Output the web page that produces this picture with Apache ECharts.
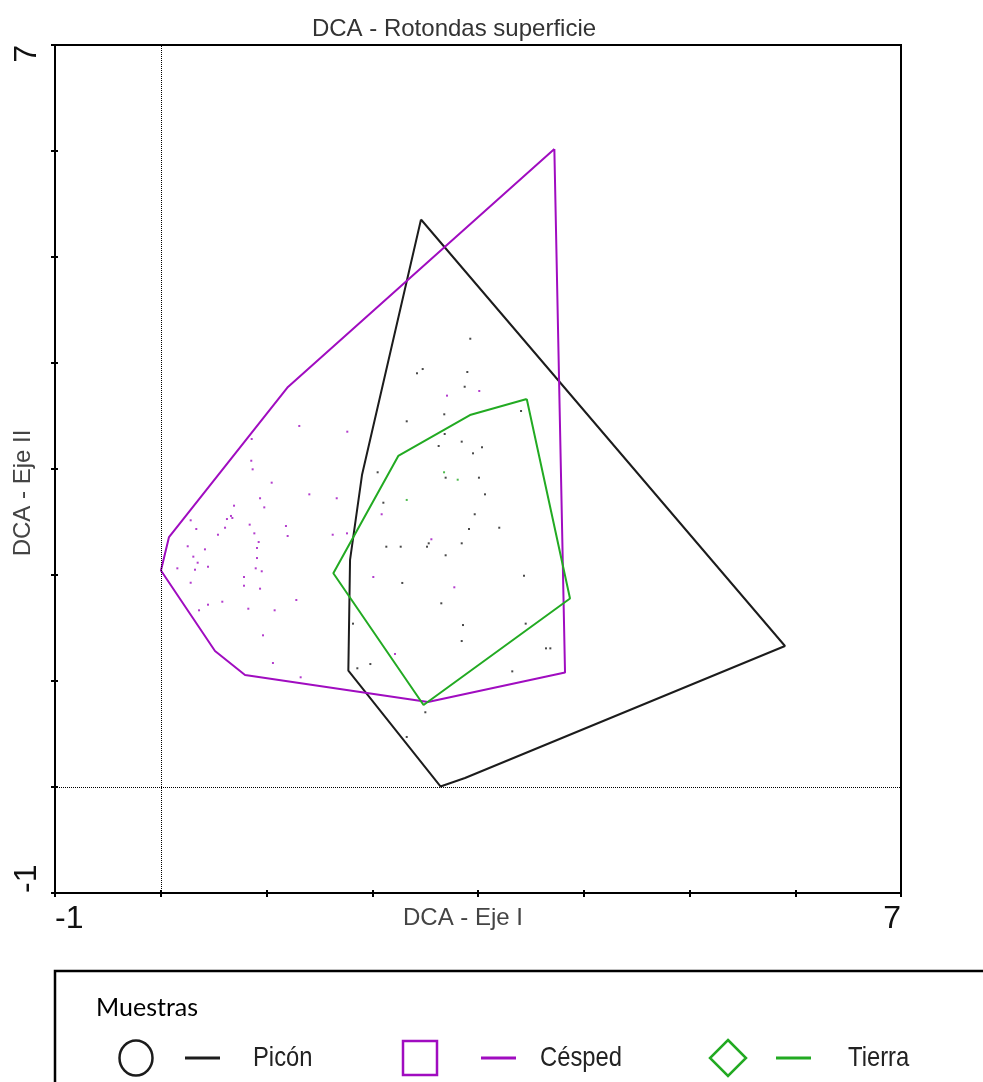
<!DOCTYPE html>
<html>
<head>
<meta charset="utf-8">
<script src="https://cdn.jsdelivr.net/npm/echarts@6/dist/echarts.min.js"></script>
<style>html,body{margin:0;padding:0;background:#fff;}#c{width:983px;height:1082px;}</style>
</head>
<body>
<div id="c"></div>
<script>
// ---- data ----
const titleText = 'DCA - Rotondas superficie';
const xAxisName = 'DCA - Eje I';
const yAxisName = 'DCA - Eje II';
const axisMin = -1;
const axisMax = 7;
const tickLabels = [-1, 7];
const legendTitle = 'Muestras';
const seriesNames = ['Picón', 'Césped', 'Tierra'];

// convex hull vertices (DCA axis I, axis II)
const piconHull = [[2.461,5.354],[1.903,2.943],[1.790,2.142],[1.774,1.099],[2.645,0.005],[2.877,0.085],[5.903,1.330]];
const cespedHull = [[3.722,6.019],[3.823,1.080],[2.527,0.802],[0.797,1.057],[0.513,1.283],[0.002,2.042],[0.078,2.358],[1.203,3.774]];
const tierraHull = [[3.461,3.660],[3.870,1.778],[2.485,0.774],[1.632,2.016],[2.246,3.123],[2.924,3.509]];

// sample scores
const piconPoints = [[2.927,4.229],[2.477,3.943],[2.423,3.903],[2.899,3.915],[2.874,3.776],[3.407,3.547],[2.681,3.516],[2.326,3.450],[2.685,3.330],[2.846,3.258],[2.628,3.217],[3.038,3.205],[2.953,3.148],[2.051,2.969],[3.009,2.918],[2.694,2.918],[3.066,2.761],[2.105,2.682],[2.969,2.573],[2.915,2.434],[3.201,2.446],[2.133,2.267],[2.269,2.267],[2.518,2.267],[2.534,2.299],[2.846,2.299],[2.694,2.186],[3.435,1.993],[2.284,1.925],[2.653,1.733],[1.818,1.541],[2.858,1.528],[3.451,1.541],[2.846,1.377],[3.643,1.308],[3.684,1.308],[1.859,1.120],[1.982,1.160],[3.324,1.091],[2.502,0.705],[2.326,0.472]];
const cespedPoints = [[1.310,3.406],[1.764,3.352],[0.860,3.283],[0.856,3.078],[0.869,2.997],[1.049,2.871],[0.939,2.724],[1.405,2.761],[1.664,2.724],[0.693,2.654],[0.979,2.638],[0.283,2.516],[0.664,2.557],[0.626,2.528],[0.677,2.538],[0.608,2.446],[0.336,2.434],[0.841,2.475],[1.184,2.462],[0.885,2.393],[0.541,2.380],[1.200,2.368],[1.626,2.380],[1.761,2.393],[0.926,2.311],[0.255,2.271],[0.418,2.242],[0.910,2.255],[0.308,2.173],[0.349,2.116],[0.910,2.160],[0.157,2.063],[0.324,2.050],[0.447,2.078],[0.898,2.063],[0.955,2.035],[0.787,1.981],[0.283,1.927],[0.787,1.899],[0.939,1.871],[1.282,1.764],[0.582,1.748],[0.447,1.720],[0.362,1.667],[0.828,1.682],[1.077,1.667],[0.967,1.431],[1.061,1.170],[1.323,1.035],[2.089,2.573],[2.559,2.337],[2.010,1.981],[2.776,1.884],[2.215,1.255],[2.707,3.692],[3.012,3.736]];
const tierraPoints = [[2.679,2.969],[2.808,2.899],[2.326,2.708]];

const colors = ['#1c1c1c', '#a00cc0', '#22aa22'];

// ---- chart ----
const chart = echarts.init(document.getElementById('c'), null, {renderer: 'canvas'});
const hulls = [piconHull, cespedHull, tierraHull];
const points = [piconPoints, cespedPoints, tierraPoints];

const series = [];
hulls.forEach((h, i) => {
  series.push({
    name: seriesNames[i], type: 'line', data: h.concat([h[0]]),
    showSymbol: false, symbol: 'none', silent: true, z: 3 + i,
    lineStyle: {color: colors[i], width: 2}, itemStyle: {color: colors[i]}
  });
});
points.forEach((p, i) => {
  series.push({
    name: seriesNames[i] + ' muestras', type: 'scatter', data: p,
    symbol: 'rect', symbolSize: 2, silent: true, z: 2,
    itemStyle: {color: colors[i]}
  });
});
// dotted zero lines
series.push({
  type: 'line', data: [], silent: true,
  markLine: {
    silent: true, symbol: ['none', 'none'], label: {show: false},
    lineStyle: {type: 'dotted', color: '#000', width: 1},
    data: [{xAxis: 0}, {yAxis: 0}]
  }
});

const labelFmt = v => tickLabels.includes(v) ? String(v) : '';
const axisBase = {
  type: 'value', min: axisMin, max: axisMax, interval: 1,
  splitLine: {show: false}
};

const legendY = 1058;
const sym = (i, x) => {
  if (i === 0) return {type: 'ellipse', shape: {cx: x, cy: legendY, rx: 16.5, ry: 17.5}, style: {fill: 'none', stroke: colors[0], lineWidth: 2.5}};
  if (i === 1) return {type: 'rect', shape: {x: x - 17, y: legendY - 17, width: 34, height: 34}, style: {fill: 'none', stroke: colors[1], lineWidth: 2.5}};
  return {type: 'polygon', shape: {points: [[x, legendY - 18], [x + 18, legendY], [x, legendY + 18], [x - 18, legendY]]}, style: {fill: 'none', stroke: colors[2], lineWidth: 2.5}};
};
const symX = [136, 420, 728];
const lineX = [185, 481, 776];
const textX = [253, 540, 848];
const graphics = [
  {type: 'rect', shape: {x: 55, y: 971, width: 960, height: 140}, style: {fill: 'none', stroke: '#000', lineWidth: 2.5}},
  {type: 'text', x: 96, y: 1008, style: {text: legendTitle, font: '25px Lato', fill: '#000', verticalAlign: 'middle'}}
];
seriesNames.forEach((n, i) => {
  graphics.push(sym(i, symX[i]));
  graphics.push({type: 'line', shape: {x1: lineX[i], y1: legendY, x2: lineX[i] + 35, y2: legendY}, style: {stroke: colors[i], lineWidth: 3}});
  graphics.push({type: 'text', x: textX[i], y: legendY, scaleX: 0.85, style: {text: n, font: '28px "Liberation Sans"', fill: '#222', verticalAlign: 'middle'}});
});

chart.setOption({
  animation: false,
  backgroundColor: '#fff',
  title: {
    text: titleText, left: 449, top: 12, textAlign: 'center',
    textStyle: {fontFamily: 'Liberation Sans', fontSize: 24, fontWeight: 'normal', color: '#333'}
  },
  grid: {left: 55, right: 82, top: 45, bottom: 189, show: true, borderColor: '#000', borderWidth: 2, containLabel: false, outerBoundsMode: 'none'},
  xAxis: [
    Object.assign({}, axisBase, {
      position: 'bottom',
      name: xAxisName, nameLocation: 'middle', nameGap: 13, nameMoveOverlap: false,
      nameTextStyle: {fontFamily: 'Liberation Sans', fontSize: 24, color: '#444', verticalAlign: 'top', padding: [0, 30, 0, 0]},
      axisLine: {show: true, onZero: false, lineStyle: {color: '#000', width: 2}},
      axisTick: {show: true, length: 4, lineStyle: {color: '#000', width: 2}},
      axisLabel: {show: true, formatter: labelFmt, margin: 10, fontFamily: 'Liberation Sans', fontSize: 32, color: '#111', alignMinLabel: 'left', alignMaxLabel: 'right'}
    }),
    Object.assign({}, axisBase, {
      position: 'bottom', axisLine: {show: false, onZero: false}, axisLabel: {show: false},
      axisTick: {show: true, inside: true, length: 3, lineStyle: {color: '#000', width: 2}}
    })
  ],
  yAxis: [
    Object.assign({}, axisBase, {
      position: 'left',
      name: yAxisName, nameLocation: 'middle', nameGap: 20, nameMoveOverlap: false,
      nameTextStyle: {fontFamily: 'Liberation Sans', fontSize: 24, color: '#444', padding: [0, 48, 0, 0]},
      axisLine: {show: true, onZero: false, lineStyle: {color: '#000', width: 2}},
      axisTick: {show: true, length: 4, lineStyle: {color: '#000', width: 2}},
      axisLabel: {show: true, formatter: labelFmt, rotate: 90, margin: 12, fontFamily: 'Liberation Sans', fontSize: 32, color: '#111', alignMinLabel: 'left', alignMaxLabel: 'right'}
    }),
    Object.assign({}, axisBase, {
      position: 'left', axisLine: {show: false, onZero: false}, axisLabel: {show: false},
      axisTick: {show: true, inside: true, length: 3, lineStyle: {color: '#000', width: 2}}
    })
  ],
  series: series,
  graphic: graphics
});
</script>
</body>
</html>
